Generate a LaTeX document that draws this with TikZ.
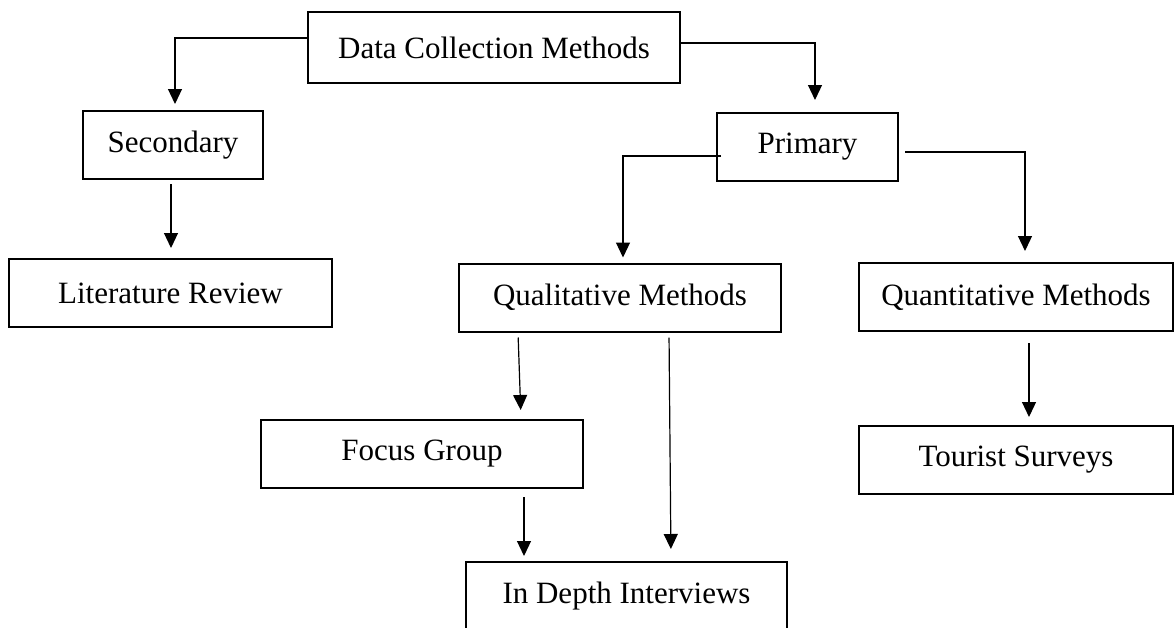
\documentclass[tikz,border=0pt]{standalone}
\usepackage{fontspec}
\setmainfont{Liberation Serif}
\usetikzlibrary{arrows.meta}

\begin{document}
\begin{tikzpicture}[x=1pt,y=-1pt]
		\tikzstyle{every node}+=[inner sep=0pt]
		\tikzstyle{box}=[draw=black, line width=2pt, minimum height=68pt, font=\fontsize{31}{37}\selectfont]
		\tikzstyle{arr}=[black, line width=1.2pt, -{Triangle[width=14pt,length=15pt]}]
		\useasboundingbox (0,0) rectangle (1175,627);

		\node[box, minimum width=372pt, minimum height=71pt] (dcm) at (494,47.5) {Data Collection Methods};
		\node[box, minimum width=180pt] (sec) at (173,145) {Secondary};
		\node[box, minimum width=181pt] (prim) at (807.5,147) {Primary};
		\node[box, minimum width=323pt] (lit) at (170.5,293) {Literature Review};
		\node[box, minimum width=322pt] (qual) at (620,297.5) {Qualitative Methods};
		\node[box, minimum width=314pt] (quan) at (1016,297) {Quantitative Methods};
		\node[box, minimum width=322pt] (focus) at (422,454) {Focus Group};
		\node[box, minimum width=314pt] (tour) at (1016,460) {Tourist Surveys};
		\node[box, minimum width=321pt] (idi) at (626.5,596) {In Depth Interviews};

		\draw[arr, shorten >=6pt] ([yshift=9.5pt]dcm.west) -| ([xshift=2pt]sec.north);
		\draw[arr, shorten >=12pt] ([yshift=4.5pt]dcm.east) -| ([xshift=7.5pt]prim.north);
		\draw[arr, shorten <=4pt, shorten >=10pt] ([xshift=-2pt]sec.south) -- ([xshift=0.5pt]lit.north);

		\draw[arr, shorten >=5pt] ([xshift=5pt,yshift=-9pt]prim.west) -| ([xshift=3pt]qual.north);
		\draw[arr, shorten <=6pt, shorten >=11pt] ([yshift=-5pt]prim.east) -| ([xshift=9pt]quan.north);

		\draw[arr, shorten <=5pt, shorten >=9pt] ([xshift=-102pt]qual.south) -- ([xshift=99pt]focus.north);
		\draw[arr, shorten <=5pt, shorten >=12pt] ([xshift=49pt]qual.south) -- ([xshift=44.5pt]idi.north);
		\draw[arr, shorten <=8pt, shorten >=5pt] ([xshift=102pt]focus.south) -- ([xshift=-102.5pt]idi.north);
		\draw[arr, shorten <=11pt, shorten >=8pt] ([xshift=13pt]quan.south) -- ([xshift=13pt]tour.north);
	\end{tikzpicture}
\end{document}
